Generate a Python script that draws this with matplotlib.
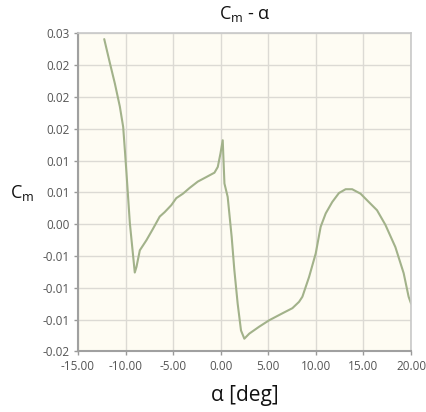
import matplotlib
matplotlib.use("Agg")
import matplotlib.pyplot as plt
from matplotlib.ticker import FixedLocator, FixedFormatter

plt.rcParams['font.family'] = ['Open Sans', 'DejaVu Sans']
plt.rcParams['mathtext.fontset'] = 'custom'
plt.rcParams['mathtext.rm'] = 'Open Sans'

# Cm vs alpha
alpha = [-12.24, -11.64, -11.12, -10.60, -10.25, -10.07, -9.90, -9.55, -9.03,
         -8.85, -8.50, -7.80, -7.11, -6.41, -5.89, -5.19, -4.67, -3.97, -3.27,
         -2.41, -1.53, -0.66, -0.31, -0.03, 0.21, 0.39, 0.73, 1.15, 1.43, 1.78,
         2.13, 2.48, 3.00, 4.05, 5.09, 6.49, 7.53, 8.23, 8.58, 9.28, 9.98,
         10.50, 11.03, 11.72, 12.42, 13.12, 13.81, 14.69, 15.55, 16.42, 17.30,
         18.35, 19.22, 19.74, 20.00]
cm = [0.0291, 0.0253, 0.0221, 0.0185, 0.0153, 0.0116, 0.0080, 0.0002, -0.0076,
      -0.0067, -0.0041, -0.0025, -0.0007, 0.0012, 0.0019, 0.0030, 0.0041,
      0.0048, 0.0057, 0.0067, 0.0074, 0.0081, 0.0090, 0.0111, 0.0132, 0.0064,
      0.0043, -0.0020, -0.0072, -0.0125, -0.0167, -0.0180, -0.0172, -0.0161,
      -0.0151, -0.0140, -0.0132, -0.0122, -0.0114, -0.0083, -0.0046, -0.0004,
      0.0017, 0.0035, 0.0049, 0.0055, 0.0055, 0.0048, 0.0035, 0.0022, -0.0001,
      -0.0036, -0.0077, -0.0114, -0.0125]

x_ticks = [-15, -10, -5, 0, 5, 10, 15, 20]
x_labels = ['-15.00', '-10.00', '-5.00', '0.00', '5.00', '10.00', '15.00', '20.00']
y_ticks = [-0.02, -0.015, -0.01, -0.005, 0.0, 0.005, 0.01, 0.015, 0.02, 0.025, 0.03]
y_labels = ['-0.02', '-0.01', '-0.01', '-0.01', '0.00', '0.01', '0.01', '0.02',
            '0.02', '0.02', '0.03']

fig = plt.figure(figsize=(4.26, 4.12), dpi=100)
ax = fig.add_axes([0.183, 0.147, 0.782, 0.772])
ax.set_facecolor('#fefcf3')
ax.plot(alpha, cm, color='#a2b28a', lw=1.5, solid_capstyle='round',
        solid_joinstyle='round')

ax.set_xlim(-15, 20)
ax.set_ylim(-0.02, 0.03)
ax.xaxis.set_major_locator(FixedLocator(x_ticks))
ax.xaxis.set_major_formatter(FixedFormatter(x_labels))
ax.yaxis.set_major_locator(FixedLocator(y_ticks))
ax.yaxis.set_major_formatter(FixedFormatter(y_labels))
ax.grid(True, color='#dcdad4', lw=1.0)
ax.set_axisbelow(True)
ax.tick_params(colors='#999999', labelcolor='#555555', labelsize=8.5,
               length=3, width=1, pad=3)
for s in ['left', 'bottom']:
    ax.spines[s].set_color('#a0a0a0')
    ax.spines[s].set_linewidth(1.5)
for s in ['top', 'right']:
    ax.spines[s].set_color('#c8c8c8')
    ax.spines[s].set_linewidth(1.2)

fig.text(0.575, 0.967, r'$\mathrm{C_m}$ - α', ha='center', va='center',
         fontsize=13, color='#111111')
fig.text(0.575, 0.04, 'α [deg]', ha='center', va='center', fontsize=15,
         color='#111111')
fig.text(0.052, 0.531, r'$\mathrm{C_m}$', ha='center', va='center',
         fontsize=13, color='#111111')

fig.savefig('out.png', dpi=100)
